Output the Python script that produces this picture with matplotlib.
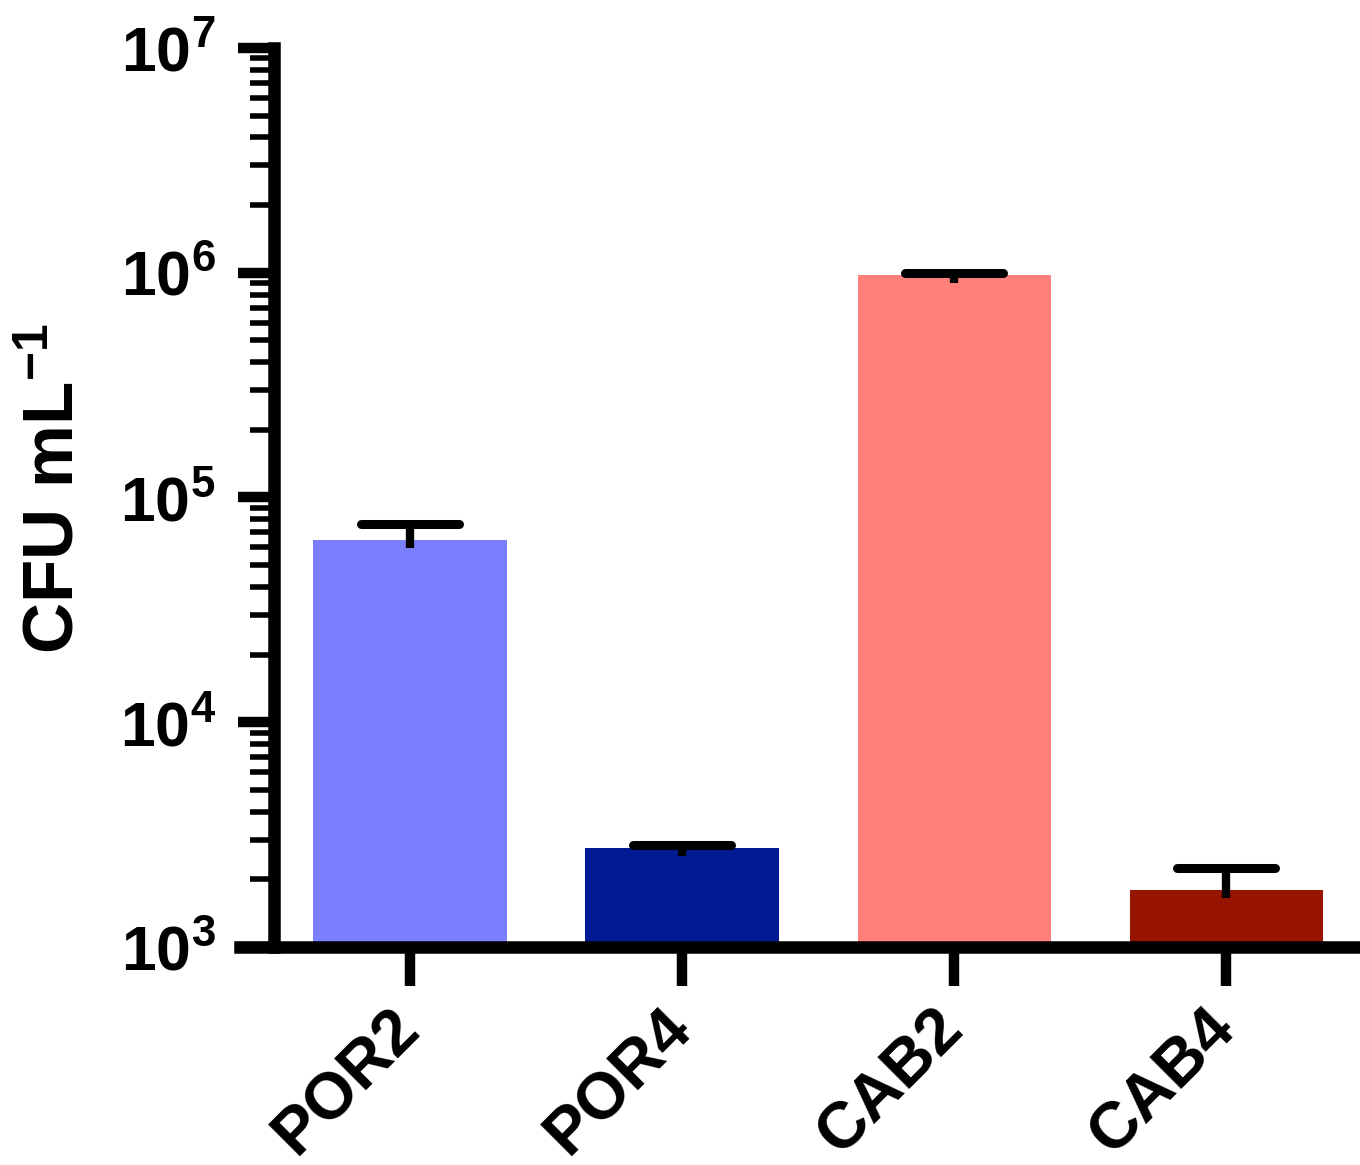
import matplotlib
matplotlib.use("Agg")
import matplotlib.pyplot as plt
import numpy as np
from matplotlib.ticker import FixedLocator, FixedFormatter, NullFormatter

plt.rcParams["font.family"] = ["Liberation Sans", "DejaVu Sans"]
plt.rcParams["font.weight"] = "bold"
plt.rcParams["mathtext.fontset"] = "custom"
plt.rcParams["mathtext.rm"] = "Liberation Sans:bold"
plt.rcParams["mathtext.bf"] = "Liberation Sans:bold"
plt.rcParams["mathtext.it"] = "Liberation Sans:bold"

# data
groups = ["POR2", "POR4", "CAB2", "CAB4"]
cfu_mean = [6.5e4, 2.76e3, 9.8e5, 1.8e3]
cfu_upper = [7.6e4, 2.84e3, 1.0e6, 2.24e3]
bar_colors = ["#7b7fff", "#021a94", "#ff7f7a", "#961400"]
decades = [3, 4, 5, 6, 7]
ytick_labels = [r"$\mathbf{10^{%d}}$" % d for d in decades]

fig = plt.figure(figsize=(13.6, 11.65), dpi=100)
ax = fig.add_axes([0.17647, 0.18712, 0.8199, 0.7717])

x = np.arange(len(groups))
ax.bar(x, cfu_mean, width=0.71, color=bar_colors, zorder=2)

# error bars (upper only), stem pokes slightly into the bar
err_lo = np.array(cfu_mean) * 0.92
for xi, lo, hi in zip(x, err_lo, cfu_upper):
    ax.vlines(xi, lo, hi, color="black", linewidth=6, zorder=3)
    ax.hlines(hi, xi - 0.18, xi + 0.18, color="black", linewidth=6.5,
              zorder=3, capstyle="round")

ax.set_yscale("log")
ax.set_ylim(10 ** decades[0], 10 ** decades[-1])
ax.set_xlim(-0.625, 3.474)

# spines first: moving a spine resets the tick objects
for side in ["top", "right"]:
    ax.spines[side].set_visible(False)
ax.spines["left"].set_position(("data", -0.5))
for side in ["left", "bottom"]:
    ax.spines[side].set_linewidth(9)
    ax.spines[side].set_capstyle("projecting")

ax.yaxis.set_major_locator(FixedLocator([10.0 ** d for d in decades]))
ax.yaxis.set_major_formatter(FixedFormatter(ytick_labels))
minor = [m * 10.0 ** d for d in decades[:-1] for m in range(2, 10)]
ax.yaxis.set_minor_locator(FixedLocator(minor))
ax.yaxis.set_minor_formatter(NullFormatter())

ax.set_xticks(x)
ax.set_xticklabels(groups, fontsize=47, fontweight="bold", rotation=45,
                   ha="right", va="center", rotation_mode="anchor")

ax.tick_params(axis="y", which="major", length=26, width=7.5, pad=16,
               direction="out", labelsize=45)
ax.tick_params(axis="y", which="minor", length=17, width=4, direction="out")
ax.tick_params(axis="x", which="major", length=28, width=7.5, pad=24,
               direction="out")

ax.set_ylabel(r"$\mathbf{CFU\ mL^{-1}}$", fontsize=51, va="center")
ax.yaxis.set_label_coords(-0.165, 0.51)

fig.savefig("out.png", dpi=100)
